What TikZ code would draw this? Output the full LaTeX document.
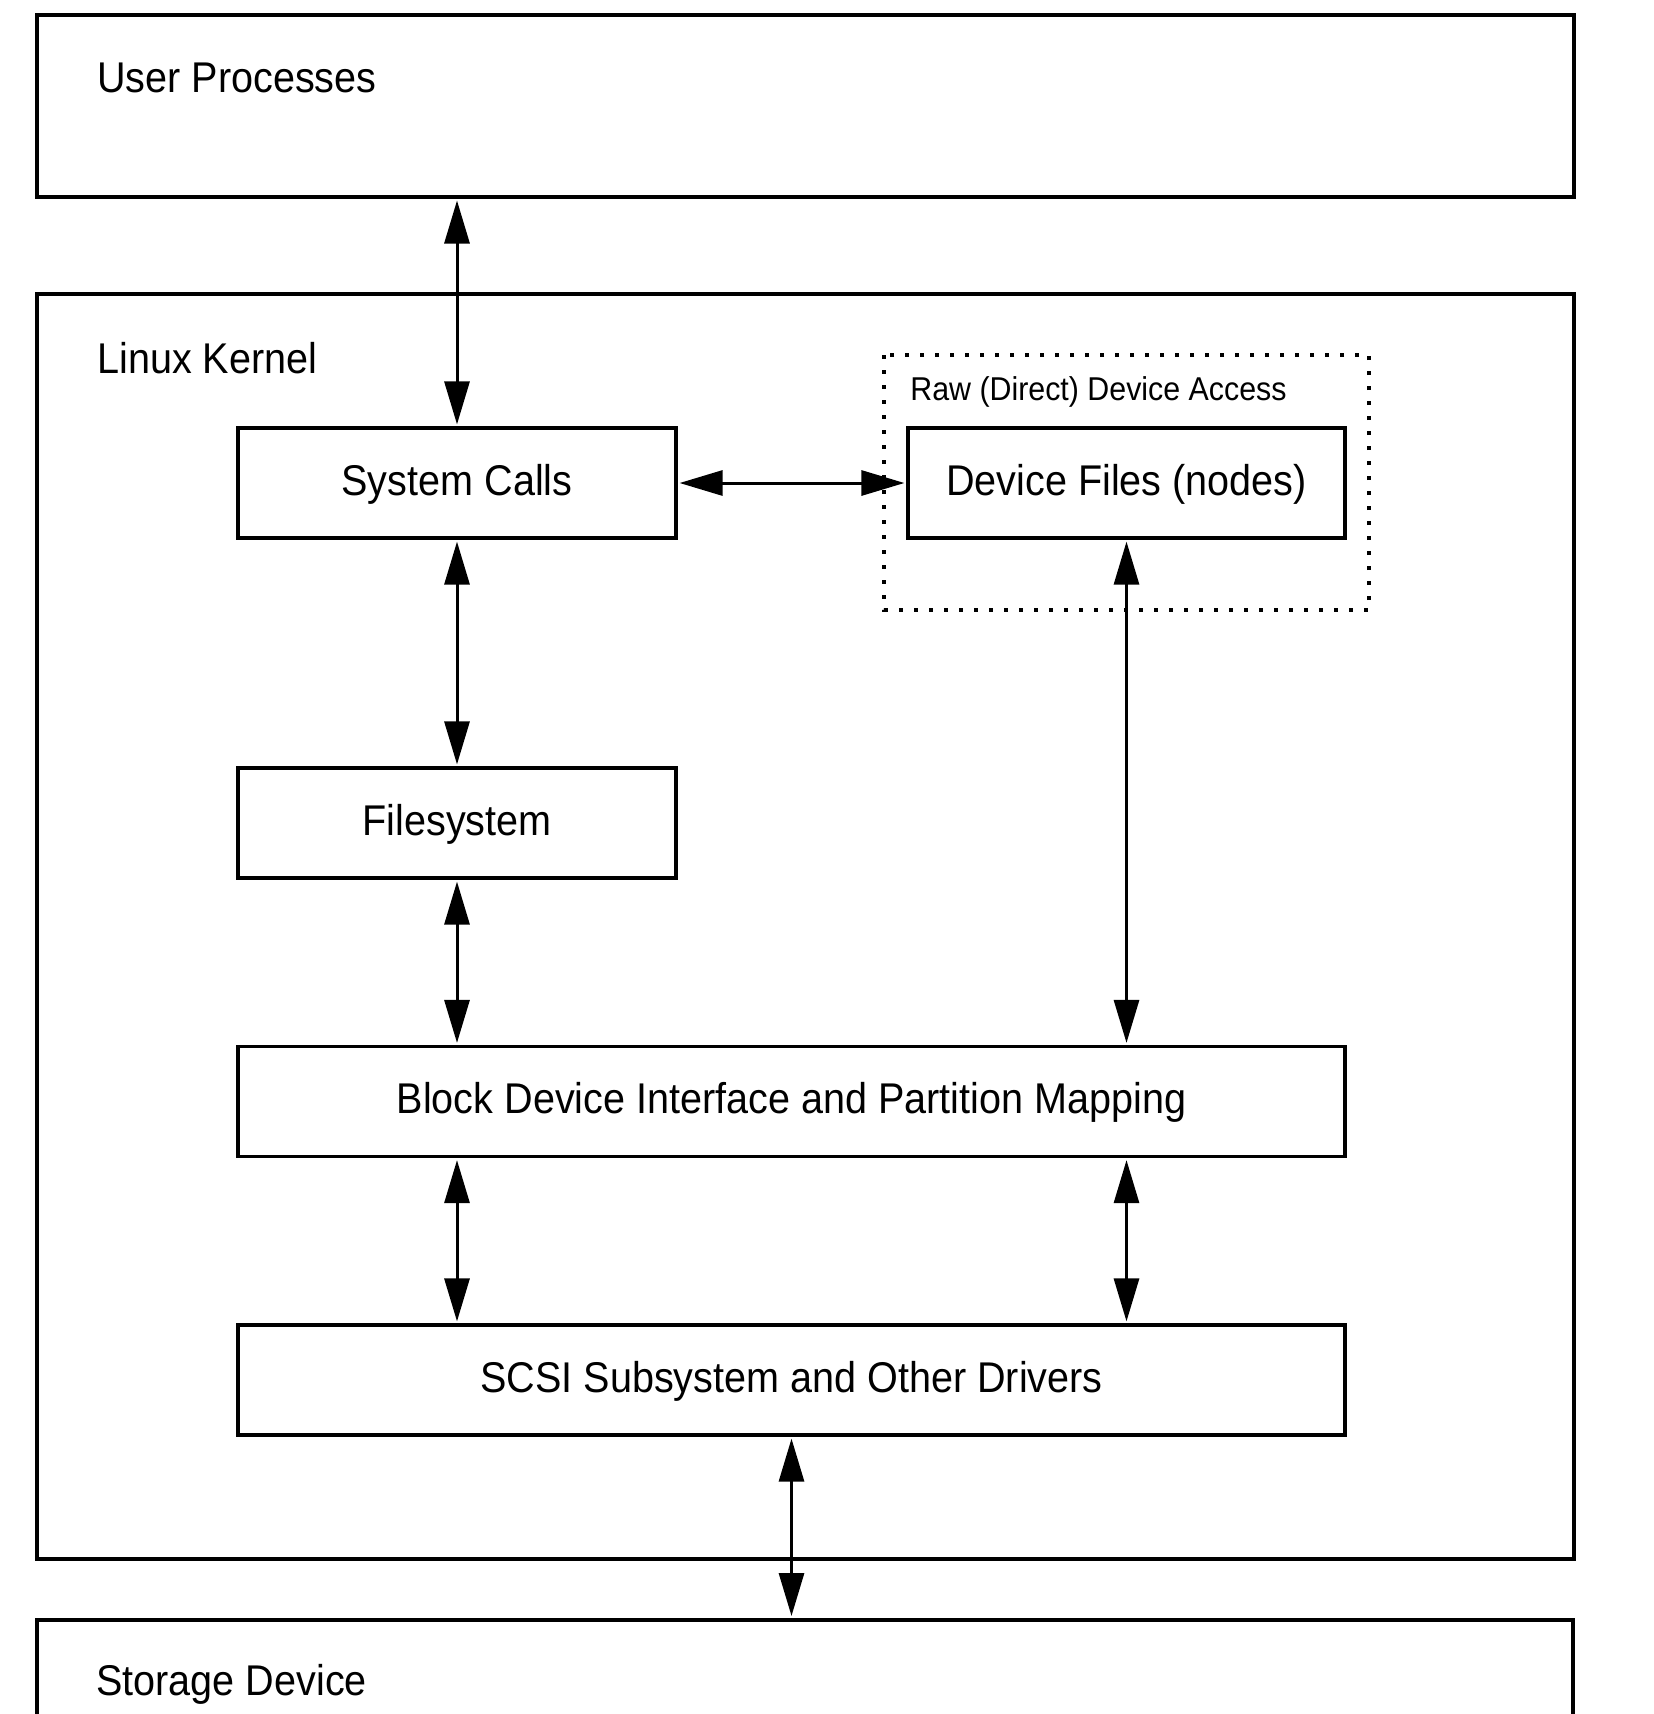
\documentclass[tikz,border=0pt]{standalone}
\usepackage{fontspec}
\setmainfont{Liberation Sans}[FakeStretch=0.92]
\usetikzlibrary{arrows.meta}
\tikzset{
  bigbox/.style={draw, line width=1.75pt, rectangle, inner sep=0pt, anchor=north west},
  stepbox/.style={draw, line width=1.6pt, rectangle, inner sep=0pt,
    minimum height=55pt, text height=16pt, text depth=4pt,
    font=\fontsize{21.5}{25}\selectfont},
  lbl/.style={inner sep=0pt, anchor=base west, font=\fontsize{21.5}{25}\selectfont},
  smalllbl/.style={inner sep=0pt, anchor=base west, font=\fontsize{16.5}{20}\selectfont},
  conn/.style={line width=1.5pt, {Triangle[length=21.5pt,width=12.5pt]}-{Triangle[length=21.5pt,width=12.5pt]}, shorten <=1pt, shorten >=1pt},
  dotbox/.style={line width=2pt, dash pattern=on 2pt off 5.5pt}
}
\begin{document}
\begin{tikzpicture}[x=0.5pt,y=-0.5pt]
\useasboundingbox (0,0) rectangle (1654,1714);
% outer boxes
\node[bigbox, minimum width=768.5pt, minimum height=91pt] (user) at (35,13) {};
\node[bigbox, minimum width=768.5pt, minimum height=632.5pt] (kernel) at (35,292) {};
\draw[line width=1.75pt] (37,1730) -- (37,1620) coordinate (stl) -- (1573,1620) coordinate (str) -- (1573,1730);
\coordinate (stor) at (791.5,1618);
% labels
\node[lbl] (userlbl) at (97,92) {User Processes};
\node[lbl] (kernlbl) at (97,373) {Linux Kernel};
\node[lbl] (storlbl) at (96,1695) {Storage Device};
% dotted raw access box
\draw[dotbox] (884,355) rectangle (1369,610);
\node[smalllbl] (rawlbl) at (910,400) {Raw (Direct) Device Access};
% inner boxes
\node[stepbox, minimum width=219pt] (sys) at (457,483) {System Calls};
\node[stepbox, minimum width=218.5pt] (dev) at (1126.5,483) {Device Files (nodes)};
\node[stepbox, minimum width=219pt] (fs) at (457,823) {Filesystem};
\node[stepbox, minimum width=553.5pt] (blk) at (791.5,1101.5) {Block Device Interface and Partition Mapping};
\node[stepbox, minimum width=553.5pt] (scsi) at (791.5,1380) {SCSI Subsystem and Other Drivers};
% connectors
\draw[conn] (user.south -| sys.north) -- (sys.north);
\draw[conn] (sys.east) -- (dev.west);
\draw[conn] (sys.south) -- (fs.north);
\draw[conn] (fs.south) -- (fs.south |- blk.north);
\draw[conn] (dev.south) -- (dev.south |- blk.north);
\draw[conn] (blk.south -| sys.south) -- (scsi.north -| sys.south);
\draw[conn] (blk.south -| dev.south) -- (scsi.north -| dev.south);
\draw[conn] (scsi.south) -- (stor);
\end{tikzpicture}
\end{document}
